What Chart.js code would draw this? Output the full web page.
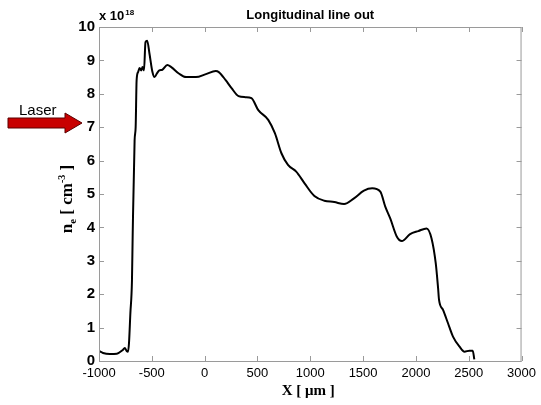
<!DOCTYPE html>
<html>
<head>
<meta charset="utf-8">
<script src="https://cdn.jsdelivr.net/npm/chart.js@4.4.0/dist/chart.umd.min.js"></script>
<style>
  body { margin: 0; background: #fff; }
  #wrap { width: 541px; height: 405px; position: relative; }
</style>
</head>
<body>
<div id="wrap"><canvas id="chart-lineout"></canvas></div>
<script>
// positions along the axis (um)
const xPos = [-1000, -962, -897, -831, -775, -756, -738, -725, -716, -703, -688, -681, -663, -653, -644,
  -630, -616, -600, -588, -574, -560, -544, -522, -494, -475, -450, -429, -400, -354, -316, -241, -176,
  -82, 12, 105, 134, 199, 255, 321, 386, 443, 508, 602, 665, 727, 789, 867, 946, 1039, 1133, 1227, 1320,
  1414, 1508, 1586, 1663, 1710, 1757, 1820, 1867, 1945, 2023, 2101, 2148, 2188, 2210, 2219, 2257, 2304,
  2351, 2413, 2460, 2507, 2538, 2553];
// electron density (x 10^18 cm^-3)
const neValues = [0.30, 0.24, 0.21, 0.22, 0.33, 0.39, 0.30, 0.28, 0.54, 1.43, 2.4, 3.8, 6.6, 7.0, 8.4,
  8.65, 8.77, 8.7, 8.8, 8.7, 9.55, 9.59, 9.2, 8.65, 8.5, 8.62, 8.7, 8.72, 8.86, 8.8, 8.6, 8.5,
  8.5, 8.59, 8.68, 8.65, 8.41, 8.17, 7.93, 7.9, 7.87, 7.51, 7.22, 6.82, 6.22, 5.87, 5.67, 5.32, 4.94, 4.80, 4.76, 4.70,
  4.87, 5.10, 5.17, 5.07, 4.62, 4.27, 3.72, 3.59, 3.80, 3.89, 3.97, 3.67, 2.92, 2.18, 1.83, 1.53, 1.13,
  0.73, 0.43, 0.28, 0.31, 0.31, 0.05];
const xTicks = [-1000, -500, 0, 500, 1000, 1500, 2000, 2500, 3000];
const yTicks = [0, 1, 2, 3, 4, 5, 6, 7, 8, 9, 10];

const SANS = '"Liberation Sans", Arial, Helvetica, sans-serif';
const SERIF = '"Liberation Serif", "Times New Roman", serif';
const AXIS_GRAY = '#9a9a9a';

// box, inward ticks and all the text around the axes
const decorPlugin = {
  id: 'decor',
  afterDraw(chart) {
    const ctx = chart.ctx;
    const a = chart.chartArea;
    const xs = chart.scales.x, ys = chart.scales.y;
    ctx.save();

    // axes box
    ctx.strokeStyle = AXIS_GRAY;
    ctx.lineWidth = 1;
    ctx.strokeRect(a.left + 0.5, a.top + 0.5, a.right - a.left - 1, a.bottom - a.top);

    // inward ticks
    ctx.beginPath();
    xTicks.forEach(v => {
      const px = Math.round(xs.getPixelForValue(v)) + 0.5;
      ctx.moveTo(px, a.bottom); ctx.lineTo(px, a.bottom - 5);
      ctx.moveTo(px, a.top); ctx.lineTo(px, a.top + 5);
    });
    yTicks.forEach(v => {
      const py = Math.round(ys.getPixelForValue(v)) + 0.5;
      ctx.moveTo(a.left, py); ctx.lineTo(a.left + 5, py);
      ctx.moveTo(a.right, py); ctx.lineTo(a.right - 5, py);
    });
    ctx.stroke();

    ctx.fillStyle = '#000';
    const midX = (a.left + a.right) / 2;

    // title
    ctx.font = 'bold 13px ' + SANS;
    ctx.textAlign = 'center';
    ctx.textBaseline = 'alphabetic';
    ctx.fillText('Longitudinal line out', midX, 19);

    // exponent
    ctx.textAlign = 'left';
    ctx.font = 'bold 13px ' + SANS;
    ctx.fillText('x 10', 99, 20);
    const w10 = ctx.measureText('x 10').width;
    ctx.font = 'bold 8px ' + SANS;
    ctx.fillText('18', 99 + w10 + 1, 15);

    // x axis label
    ctx.font = 'bold 15px ' + SERIF;
    ctx.textAlign = 'center';
    ctx.fillText('X [ \u03bcm ]', midX - 2, 395);

    // y axis label with sub / superscript
    ctx.translate(72, 199);
    ctx.rotate(-Math.PI / 2);
    const parts = [
      { t: 'n', size: 17, dy: 0 },
      { t: 'e', size: 11, dy: 4 },
      { t: ' [ cm', size: 17, dy: 0 },
      { t: '-3', size: 10, dy: -7 },
      { t: ' ]', size: 17, dy: 0 }
    ];
    let total = 0;
    parts.forEach(p => { ctx.font = 'bold ' + p.size + 'px ' + SERIF; p.w = ctx.measureText(p.t).width; total += p.w; });
    let cx = -total / 2;
    ctx.textAlign = 'left';
    parts.forEach(p => {
      ctx.font = 'bold ' + p.size + 'px ' + SERIF;
      ctx.fillText(p.t, cx, p.dy);
      cx += p.w;
    });
    ctx.setTransform(1, 0, 0, 1, 0, 0);

    // laser arrow
    ctx.font = '15px ' + SANS;
    ctx.textAlign = 'left';
    ctx.fillText('Laser', 19, 115);
    ctx.beginPath();
    ctx.moveTo(8, 118);
    ctx.lineTo(65, 118);
    ctx.lineTo(65, 113);
    ctx.lineTo(82, 123);
    ctx.lineTo(65, 133);
    ctx.lineTo(65, 128);
    ctx.lineTo(8, 128);
    ctx.closePath();
    ctx.fillStyle = '#c80000';
    ctx.fill();
    ctx.strokeStyle = '#5a0000';
    ctx.lineWidth = 1;
    ctx.stroke();

    ctx.restore();
  }
};

const ctx = document.getElementById('chart-lineout').getContext('2d');
const chartLineout = new Chart(ctx, {
  type: 'line',
  data: {
    datasets: [{
      data: xPos.map((x, i) => ({ x: x, y: neValues[i] })),
      borderColor: '#000',
      borderWidth: 2,
      pointRadius: 0,
      fill: false,
      cubicInterpolationMode: 'monotone'
    }]
  },
  options: {
    responsive: true,
    maintainAspectRatio: false,
    animation: false,
    layout: { padding: { top: 27, right: 15, left: 0, bottom: 0 } },
    scales: {
      x: {
        type: 'linear',
        min: -1000,
        max: 3000,
        afterFit: s => { s.height = 44; },
        afterBuildTicks: s => { s.ticks = xTicks.map(v => ({ value: v })); },
        grid: { display: false, drawTicks: false },
        border: { display: false },
        ticks: {
          autoSkip: false,
          maxRotation: 0,
          padding: 5,
          color: '#000',
          font: { family: SANS, size: 13 },
          callback: v => String(v)
        }
      },
      y: {
        min: 0,
        max: 10,
        afterFit: s => { s.width = 99; },
        afterBuildTicks: s => { s.ticks = yTicks.map(v => ({ value: v })); },
        grid: { display: false, drawTicks: false },
        border: { display: false },
        ticks: {
          autoSkip: false,
          padding: 4,
          color: '#000',
          font: { family: SANS, size: 15, weight: 'bold' },
          callback: v => String(v)
        }
      }
    },
    plugins: {
      legend: { display: false },
      tooltip: { enabled: false }
    }
  },
  plugins: [decorPlugin]
});
</script>
</body>
</html>
